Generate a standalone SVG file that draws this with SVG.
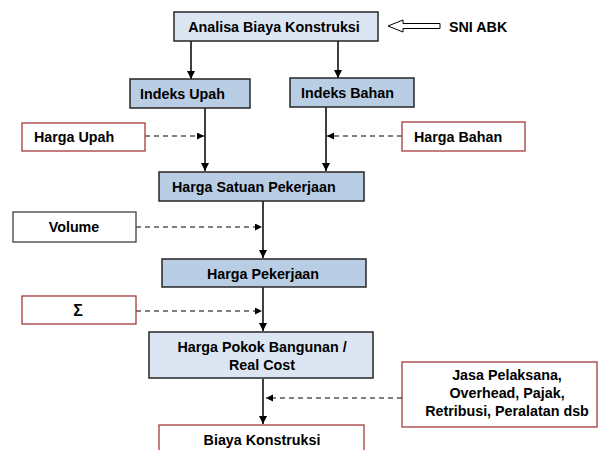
<svg xmlns="http://www.w3.org/2000/svg" width="598" height="450" viewBox="0 0 598 450">
<defs>
<marker id="ah" markerUnits="userSpaceOnUse" markerWidth="9" markerHeight="9" refX="8" refY="4" orient="auto"><path d="M0,0 L8,4 L0,8 Z" fill="#000"/></marker>
<marker id="ahs" markerUnits="userSpaceOnUse" markerWidth="9" markerHeight="9" refX="7" refY="3.5" orient="auto"><path d="M0,0 L7,3.5 L0,7 Z" fill="#000"/></marker>
</defs>
<style>
.blue{fill:#b9cde5;stroke:#262626;stroke-width:1.5}
.light{fill:#dce6f2;stroke:#262626;stroke-width:1.5}
.red{fill:#fff;stroke:#a5393b;stroke-width:1.3}
.gray{fill:#fff;stroke:#404040;stroke-width:1.3}
text{font-family:"Liberation Sans",Arial,sans-serif;font-weight:bold;font-size:14.3px;fill:#000}
.c{text-anchor:middle}
.solid{stroke:#000;stroke-width:1.5;fill:none;marker-end:url(#ah)}
.dash{stroke:#000;stroke-width:1.2;fill:none;stroke-dasharray:5,4;marker-end:url(#ahs)}
</style>
<rect width="598" height="450" fill="#fff"/>
<g id="connectors">
<line class="solid" x1="191" y1="41" x2="191" y2="79"/>
<line class="solid" x1="338" y1="41" x2="338" y2="78"/>
<line class="solid" x1="205" y1="108" x2="205" y2="171"/>
<line class="solid" x1="326" y1="107" x2="326" y2="171"/>
<line class="dash" x1="145" y1="136" x2="204" y2="136"/>
<line class="dash" x1="402" y1="136" x2="327" y2="136"/>
<line class="solid" x1="263" y1="201" x2="263" y2="258"/>
<line class="dash" x1="136" y1="227" x2="262" y2="227"/>
<line class="solid" x1="263" y1="287" x2="263" y2="331"/>
<line class="dash" x1="136" y1="311" x2="262" y2="311"/>
<line class="solid" x1="263" y1="379" x2="263" y2="424"/>
<line class="dash" x1="402" y1="398" x2="266" y2="398"/>
<polygon points="388,26 403,20 403,23.5 440,23.5 440,28.5 403,28.5 403,32" fill="#fff" stroke="#000" stroke-width="1"/>
</g>
<g id="analisa"><rect class="light" x="174" y="12" width="204" height="29"/><text class="c" x="274" y="32">Analisa Biaya Konstruksi</text></g>
<g id="sni"><text x="449" y="32">SNI ABK</text></g>
<g id="indeks-upah"><rect class="blue" x="130" y="79" width="120" height="29"/><text x="140" y="99">Indeks Upah</text></g>
<g id="indeks-bahan"><rect class="blue" x="290" y="78" width="124" height="29"/><text x="301" y="98">Indeks Bahan</text></g>
<g id="harga-upah"><rect class="red" x="22" y="123" width="123" height="28"/><text x="34" y="142">Harga Upah</text></g>
<g id="harga-bahan"><rect class="red" x="402" y="122" width="123" height="29"/><text x="414" y="142">Harga Bahan</text></g>
<g id="harga-satuan"><rect class="blue" x="159" y="172" width="205" height="29"/><text x="172" y="192">Harga Satuan Pekerjaan</text></g>
<g id="volume"><rect class="gray" x="13" y="212" width="123" height="30"/><text class="c" x="74" y="232">Volume</text></g>
<g id="harga-pekerjaan"><rect class="blue" x="162" y="259" width="204" height="28"/><text class="c" x="263" y="279">Harga Pekerjaan</text></g>
<g id="sigma"><rect class="red" x="22" y="296" width="114" height="28"/><text class="c" x="78" y="316" style="font-size:16px">Σ</text></g>
<g id="harga-pokok"><rect class="light" x="149" y="332" width="224" height="46"/><text class="c" x="262" y="352">Harga Pokok Bangunan /</text><text class="c" x="262" y="370">Real Cost</text></g>
<g id="jasa"><rect class="red" x="402" y="362" width="195" height="65"/><text class="c" x="507" y="380">Jasa Pelaksana,</text><text class="c" x="507" y="398">Overhead, Pajak,</text><text class="c" x="507" y="416">Retribusi, Peralatan dsb</text></g>
<g id="biaya"><rect class="red" x="159" y="425" width="205" height="32"/><text class="c" x="262" y="445">Biaya Konstruksi</text></g>
</svg>
